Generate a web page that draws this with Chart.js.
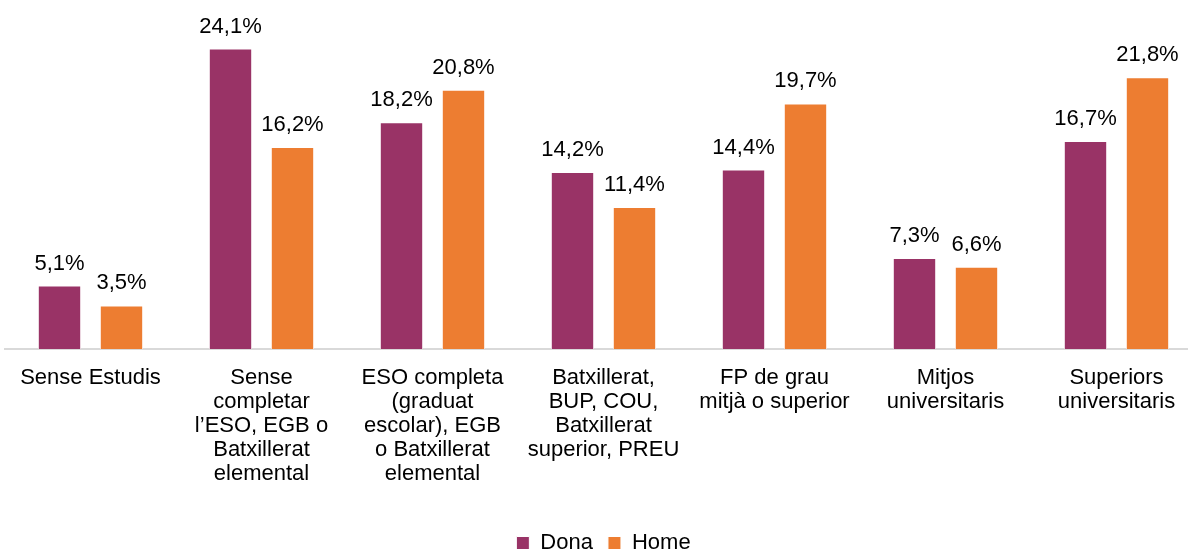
<!DOCTYPE html>
<html>
<head>
<meta charset="utf-8">
<script src="https://cdn.jsdelivr.net/npm/chart.js@4"></script>
<style>
  html, body { margin: 0; padding: 0; background: #fff; overflow: hidden; }
  #wrap { width: 1202px; height: 564px; }
</style>
</head>
<body>
<div id="wrap"><canvas class="canvas"></canvas></div>
<script>
var categories = [
    ['Sense Estudis'],
    ['Sense', 'completar', 'l\u2019ESO, EGB o', 'Batxillerat', 'elemental'],
    ['ESO completa', '(graduat', 'escolar), EGB', 'o Batxillerat', 'elemental'],
    ['Batxillerat,', 'BUP, COU,', 'Batxillerat', 'superior, PREU'],
    ['FP de grau', 'mitj\u00e0 o superior'],
    ['Mitjos', 'universitaris'],
    ['Superiors', 'universitaris']
]
var dona = [5.1, 24.1, 18.2, 14.2, 14.4, 7.3, 16.7]
var home = [3.5, 16.2, 20.8, 11.4, 19.7, 6.6, 21.8]

var font = '"Liberation Sans", Arial, sans-serif'

// labels above bars, e.g. "24,1%"
var barLabels = {
    id: 'barLabels',
    afterDatasetsDraw(chart) {
        var ctx = chart.ctx
        ctx.save()
        ctx.font = '22px ' + font
        ctx.fillStyle = '#000'
        ctx.textAlign = 'center'
        ctx.textBaseline = 'alphabetic'
        chart.data.datasets.forEach((ds, i) => {
            chart.getDatasetMeta(i).data.forEach((bar, j) => {
                ctx.fillText(ds.data[j].toFixed(1).replace('.', ',') + '%', bar.x, bar.y - 16)
            })
        })
        ctx.restore()
    }
}

var ctx = document.querySelector('.canvas').getContext('2d')
var myChart = new Chart(ctx, {
    type: 'bar',
    data: {
        labels: categories,
        datasets: [{
            label: 'Dona',
            data: dona,
            backgroundColor: '#993366',
            borderColor: '#fff',
            borderWidth: 1
        }, {
            label: 'Home',
            data: home,
            backgroundColor: '#ED7D31',
            borderColor: '#fff',
            borderWidth: 1
        }]
    },
    options: {
        responsive: true,
        maintainAspectRatio: false,
        animation: false,
        layout: { padding: { left: 5, right: 0, top: 0, bottom: 0 } },
        datasets: {
            bar: { categoryPercentage: 0.725, barPercentage: 0.7 }
        },
        scales: {
            x: {
                grid: { display: false, drawTicks: false },
                border: { display: true, color: '#d9d9d9', width: 2 },
                ticks: {
                    color: '#000',
                    padding: 17,
                    maxRotation: 0,
                    autoSkip: false,
                    font: { family: font, size: 22, lineHeight: 1.09 }
                },
                afterFit(scale) { scale.height += 14 }
            },
            y: {
                display: false,
                min: 0,
                max: 28
            }
        },
        plugins: {
            legend: {
                position: 'bottom',
                labels: {
                    color: '#000',
                    boxWidth: 13,
                    boxHeight: 13,
                    padding: 15,
                    font: { family: font, size: 22 }
                }
            },
            tooltip: { enabled: false }
        }
    },
    plugins: [barLabels]
})
</script>
</body>
</html>
